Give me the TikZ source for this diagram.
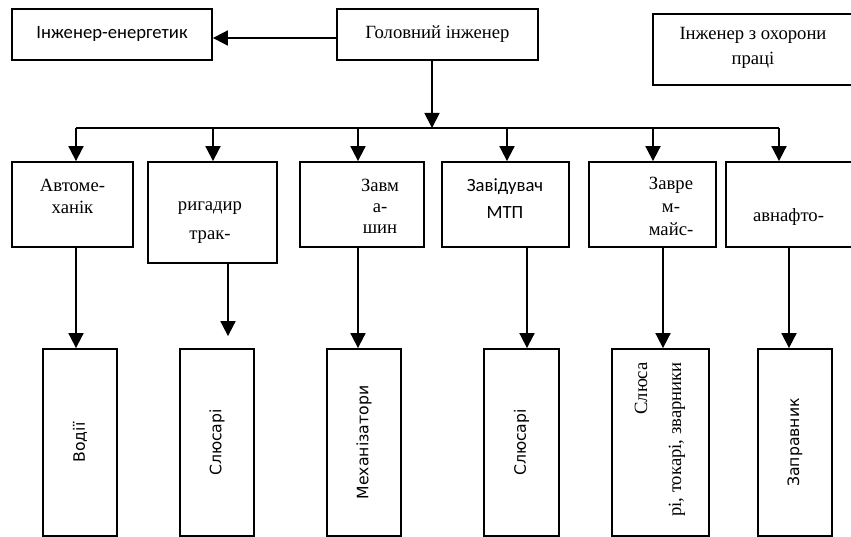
\documentclass[tikz,border=0pt]{standalone}
\usepackage{fontspec}
\setmainfont{Liberation Serif}
\newfontfamily\calibfont{Carlito}
\newfontfamily\dejafont{DejaVu Sans}
\usetikzlibrary{arrows.meta,positioning}

\tikzset{
  box/.style={draw, line width=1.8pt, inner sep=0pt},
  serif/.style={font=\fontsize{18.67}{22}\selectfont, align=center, inner sep=0pt},
  sans/.style={font=\calibfont\fontsize{18.67}{27}\selectfont, align=center, inner sep=0pt},
  vert/.style={font=\dejafont\fontsize{15.7}{19}\selectfont},
  arr/.style={-{Triangle[length=15pt,width=15pt]}, line width=1.8pt}
}

\begin{document}
\begin{tikzpicture}[x=1pt, y=-1pt]
\useasboundingbox (0,0) rectangle (851,537);
\clip (0,0) rectangle (851,537);

% top row
\node[box, sans, minimum width=200, minimum height=51] (energ) at (112,34.5) {Інженер-енергетик};
\node[box, serif, minimum width=201, minimum height=51] (golov) at (437.5,34.5) {Головний інженер};
\node[box, minimum width=200, minimum height=71] (ohor) at (753,49.5) {};
\node[serif, font=\fontsize{18.67}{25}\selectfont] (ohor_t) at (753,47.5) {Інженер з охорони\\праці};

% middle row
\node[box, minimum width=121, minimum height=85] (avto) at (72.5,204.5) {};
\node[serif] (avto_t) at (72.5,196) {Автоме-\\ханік};
\node[box, minimum width=129, minimum height=101] (brig) at (212.5,212.5) {};
\node[serif, font=\fontsize{18.67}{29}\selectfont] (brig_t) at (210,222.5) {ригадир\\трак-};
\node[box, minimum width=124, minimum height=85] (zavm) at (362,204.5) {};
\node[serif, font=\fontsize{18.67}{21}\selectfont] (zavm_t) at (380,206) {Завм\\а-\\шин};
\node[box, minimum width=127, minimum height=85] (mtp) at (505.5,204.5) {};
\node[sans] (mtp_t) at (505,198.5) {Завідувач\\МТП};
\node[box, minimum width=127, minimum height=85] (zavrem) at (652.5,204.5) {};
\node[serif, font=\fontsize{18.67}{23}\selectfont] (zavrem_t) at (671,206) {Завре\\м-\\майс-};
\node[box, minimum width=127, minimum height=85] (nafto) at (789.5,204.5) {};
\node[serif] (nafto_t) at (788.5,217) {авнафто-};

% bottom row
\node[box, vert, minimum width=74, minimum height=187] (vod) at (80,442.5) {\rotatebox{90}{Водії}};
\node[box, vert, minimum width=74, minimum height=187] (slus_1) at (217,442.5) {\rotatebox{90}{Слюсарі}};
\node[box, vert, minimum width=74, minimum height=187] (mech) at (364,442.5) {\rotatebox{90}{Механізатори}};
\node[box, vert, minimum width=75, minimum height=187] (slus_2) at (521.5,442.5) {\rotatebox{90}{Слюсарі}};
\node[box, minimum width=97, minimum height=187] (slus_3) at (660.5,442.5) {};
\node[serif, rotate=90, align=right, anchor=east, font=\fontsize{18.67}{34}\selectfont] (slus_3t) at (660,362) {Слюса\\рі, токарі, зварники};
\node[box, vert, minimum width=74, minimum height=187] (zapr) at (795,442.5) {\rotatebox{90}{Заправник}};

% connectors
\coordinate (bus) at (432,128);
\coordinate (d_1) at (76,128);
\coordinate (d_2) at (213,128);
\coordinate (d_3) at (358,128);
\coordinate (d_4) at (507,128);
\coordinate (d_5) at (653,128);
\coordinate (d_6) at (779,128);

\draw[arr] (golov.west |- 0,38) -- (energ.east |- 0,38);
\draw[arr] (golov.south -| bus) -- (bus);
\draw[line width=1.8pt] (d_1) -- (d_6);
\foreach \d/\b in {d_1/avto, d_2/brig, d_3/zavm, d_4/mtp, d_5/zavrem, d_6/nafto}
  \draw[arr] (\d) -- (\d |- \b.north);
\foreach \x/\a/\b in {76/avto/vod, 358/zavm/mech, 527/mtp/slus_2, 663/zavrem/slus_3, 789/nafto/zapr}
  \draw[arr] (\a.south -| \x,0) -- (\b.north -| \x,0);
\draw[arr, shorten >=12pt] (brig.south -| 228,0) -- (slus_1.north -| 228,0);
\end{tikzpicture}
\end{document}
